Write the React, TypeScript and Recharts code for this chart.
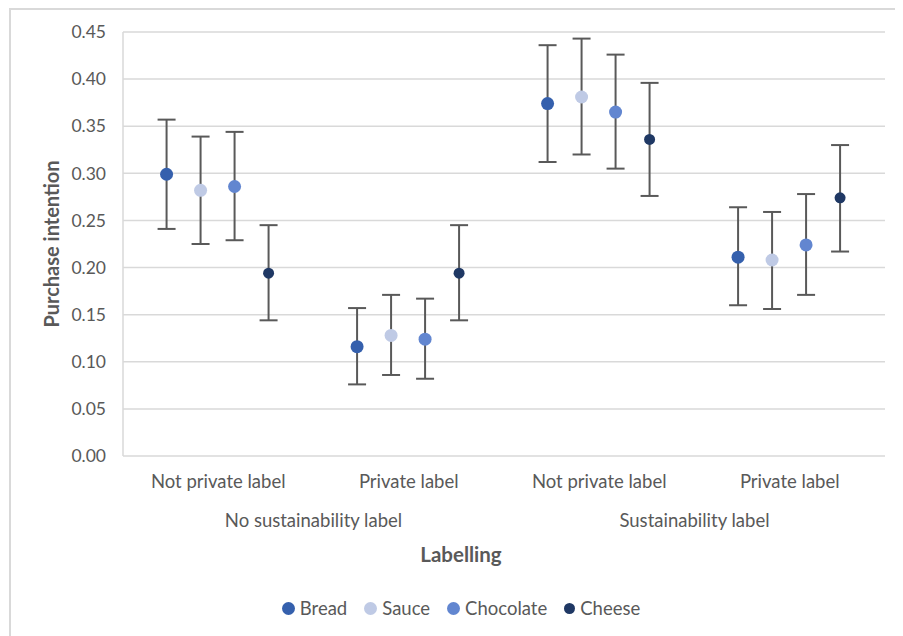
import React from "react";
import { ComposedChart, Bar, ErrorBar, LabelList, XAxis, YAxis, CartesianGrid, Legend, Label } from "recharts";

const categories = ["Not private label", "Private label", "Not private label", "Private label"];
const groups = ["No sustainability label", "No sustainability label", "Sustainability label", "Sustainability label"];

const breadMean = [0.299, 0.116, 0.374, 0.211];
const breadLow = [0.241, 0.076, 0.312, 0.16];
const breadHigh = [0.357, 0.157, 0.436, 0.264];

const sauceMean = [0.282, 0.128, 0.381, 0.208];
const sauceLow = [0.225, 0.086, 0.32, 0.156];
const sauceHigh = [0.339, 0.171, 0.443, 0.259];

const chocolateMean = [0.286, 0.124, 0.365, 0.224];
const chocolateLow = [0.229, 0.082, 0.305, 0.171];
const chocolateHigh = [0.344, 0.167, 0.426, 0.278];

const cheeseMean = [0.194, 0.194, 0.336, 0.274];
const cheeseLow = [0.144, 0.144, 0.276, 0.217];
const cheeseHigh = [0.245, 0.245, 0.396, 0.33];

const yTicks = [0, 0.05, 0.1, 0.15, 0.2, 0.25, 0.3, 0.35, 0.4, 0.45];

const series = [
  { key: "bread", name: "Bread", color: "#3560ad", r: 6.5, mean: breadMean, low: breadLow, high: breadHigh },
  { key: "sauce", name: "Sauce", color: "#bfcae5", r: 6.5, mean: sauceMean, low: sauceLow, high: sauceHigh },
  { key: "chocolate", name: "Chocolate", color: "#6286d0", r: 6.5, mean: chocolateMean, low: chocolateLow, high: chocolateHigh },
  { key: "cheese", name: "Cheese", color: "#1f3864", r: 5.5, mean: cheeseMean, low: cheeseLow, high: cheeseHigh },
];

const data = categories.map((cat, i) => {
  const row: Record<string, any> = { cat, group: groups[i] };
  series.forEach((s) => {
    row[s.key] = s.mean[i];
    row[s.key + "Err"] = [s.mean[i] - s.low[i], s.high[i] - s.mean[i]];
  });
  return row;
});

const FONT = "Lato, 'Open Sans', sans-serif";
const TEXT = "#595959";
const GRID = "#d9d9d9";

const CatTick = ({ x, y, payload }: any) => (
  <text x={x} y={y + 32} textAnchor="middle" fill={TEXT} fontSize={18.5} fontFamily={FONT}>
    {payload.value}
  </text>
);

const GroupTick = ({ x, y, payload }: any) => (
  <text x={x} y={y + 21} textAnchor="middle" fill={TEXT} fontSize={18.5} fontFamily={FONT}>
    {payload.value}
  </text>
);

const LegendContent = () => (
  <div
    style={{
      display: "flex",
      justifyContent: "center",
      alignItems: "center",
      gap: 17,
      fontFamily: FONT,
      fontSize: 18.5,
      color: TEXT,
      lineHeight: "22px",
    }}
  >
    {series.map((s) => (
      <div key={s.key} style={{ display: "flex", alignItems: "center" }}>
        <svg width={s.r * 2} height={s.r * 2} style={{ marginRight: 5 }}>
          <circle cx={s.r} cy={s.r} r={s.r} fill={s.color} />
        </svg>
        <span>{s.name}</span>
      </div>
    ))}
  </div>
);

export default function App() {
  return (
    <div style={{ position: "relative", width: 895, height: 628, overflow: "hidden", fontFamily: FONT }}>
      <div
        style={{
          position: "absolute",
          left: 1,
          top: 0,
          width: 1000,
          height: 1000,
          borderLeft: `2px solid ${GRID}`,
          borderTop: `2px solid ${GRID}`,
        }}
      />
      <ComposedChart
        width={895}
        height={628}
        data={data}
        margin={{ top: 24, right: 18, left: 45, bottom: 38 }}
        barCategoryGap="15%"
        barGap={4}
      >
        <CartesianGrid vertical={false} stroke={GRID} strokeWidth={1.5} />
        <XAxis
          xAxisId="cat"
          dataKey="cat"
          height={50}
          tickLine={false}
          axisLine={false}
          tickSize={0}
          tickMargin={0}
          interval={0}
          tick={<CatTick />}
        />
        <XAxis
          xAxisId="grp"
          dataKey="group"
          allowDuplicatedCategory={false}
          height={70}
          tickLine={false}
          axisLine={false}
          tickSize={0}
          tickMargin={0}
          interval={0}
          tick={<GroupTick />}
        >
          <Label
            content={({ viewBox }: any) => (
              <text
                x={viewBox.x + viewBox.width / 2 - 43}
                y={viewBox.y + viewBox.height - 14}
                textAnchor="middle"
                fill={TEXT}
                fontSize={20.5}
                fontWeight="bold"
                fontFamily={FONT}
              >
                Labelling
              </text>
            )}
          />
        </XAxis>
        <YAxis
          width={70}
          domain={[0, 0.45]}
          ticks={yTicks}
          tickFormatter={(v: number) => v.toFixed(2)}
          tickLine={false}
          tickMargin={11}
          axisLine={{ stroke: GRID, strokeWidth: 1.5 }}
          tick={{ fill: TEXT, fontSize: 17.5, fontFamily: FONT }}
        >
          <Label
            content={({ viewBox }: any) => (
              <text
                x={51}
                y={viewBox.y + viewBox.height / 2}
                transform={`rotate(-90, 51, ${viewBox.y + viewBox.height / 2})`}
                textAnchor="middle"
                fill={TEXT}
                fontSize={20}
                fontWeight="bold"
                fontFamily={FONT}
              >
                Purchase intention
              </text>
            )}
          />
        </YAxis>
        {series.map((s) => (
          <Bar key={s.key} xAxisId="cat" dataKey={s.key} name={s.name} fill="transparent" isAnimationActive={false}>
            <ErrorBar dataKey={s.key + "Err"} width={9} stroke="#595959" strokeWidth={2} direction="y" />
            <LabelList
              dataKey={s.key}
              content={({ x, y, width }: any) => (
                <circle cx={x + width / 2} cy={y} r={s.r} fill={s.color} />
              )}
            />
          </Bar>
        ))}
        <Legend content={<LegendContent />} wrapperStyle={{ left: 0, width: 906, top: 589 }} />
      </ComposedChart>
    </div>
  );
}
